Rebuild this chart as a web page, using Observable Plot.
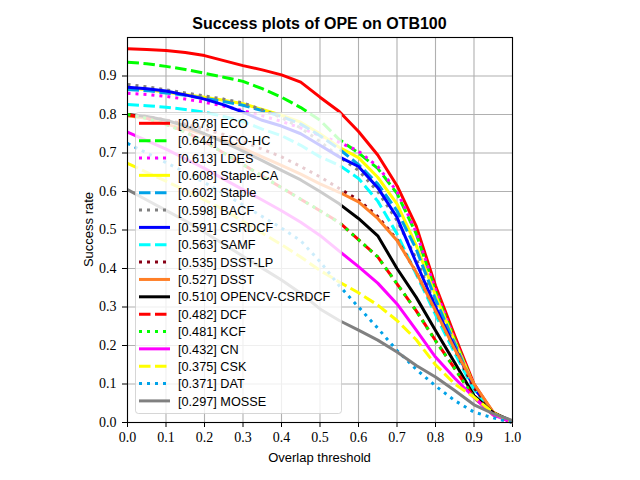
<!DOCTYPE html>
<html>
<head>
<meta charset="utf-8">
<script src="https://cdn.jsdelivr.net/npm/d3@7"></script>
<script src="https://cdn.jsdelivr.net/npm/@observablehq/plot@0.6"></script>
<style>
  html, body { margin: 0; padding: 0; background: #fff; }
  #wrap { width: 640px; height: 480px; overflow: hidden; }
</style>
</head>
<body>
<div id="wrap"></div>
<script>
// ---- data ----
const thresholds = [0, 0.05, 0.1, 0.15, 0.2, 0.25, 0.3, 0.35, 0.4, 0.45, 0.5, 0.55, 0.6, 0.65, 0.7, 0.75, 0.8, 0.85, 0.9, 0.95, 1.0];
const trackers = ["ECO", "ECO-HC", "LDES", "Staple-CA", "Staple", "BACF", "CSRDCF", "SAMF", "DSST-LP", "DSST", "OPENCV-CSRDCF", "DCF", "KCF", "CN", "CSK", "DAT", "MOSSE"];
const aucs = [0.678, 0.644, 0.613, 0.608, 0.602, 0.598, 0.591, 0.563, 0.535, 0.527, 0.510, 0.482, 0.481, 0.432, 0.375, 0.371, 0.297];

const ECO      = [0.971, 0.969, 0.966, 0.961, 0.953, 0.940, 0.927, 0.916, 0.903, 0.884, 0.845, 0.808, 0.756, 0.695, 0.615, 0.510, 0.355, 0.225, 0.100, 0.025, 0];
const ECO_HC   = [0.936, 0.932, 0.925, 0.917, 0.907, 0.897, 0.886, 0.867, 0.845, 0.818, 0.785, 0.735, 0.700, 0.660, 0.595, 0.490, 0.340, 0.215, 0.095, 0.025, 0];
const LDES     = [0.855, 0.852, 0.847, 0.840, 0.832, 0.822, 0.810, 0.797, 0.782, 0.765, 0.745, 0.728, 0.705, 0.665, 0.600, 0.495, 0.345, 0.215, 0.095, 0.025, 0];
const STAPLE_CA= [0.868, 0.865, 0.858, 0.852, 0.845, 0.837, 0.828, 0.813, 0.798, 0.780, 0.750, 0.715, 0.688, 0.637, 0.568, 0.460, 0.330, 0.210, 0.095, 0.025, 0];
const STAPLE   = [0.865, 0.862, 0.856, 0.850, 0.842, 0.834, 0.824, 0.810, 0.795, 0.775, 0.745, 0.710, 0.670, 0.620, 0.550, 0.450, 0.320, 0.205, 0.090, 0.025, 0];
const BACF     = [0.878, 0.872, 0.864, 0.856, 0.848, 0.840, 0.830, 0.812, 0.792, 0.765, 0.730, 0.690, 0.655, 0.600, 0.525, 0.425, 0.305, 0.200, 0.090, 0.025, 0];
const CSRDCF   = [0.871, 0.867, 0.861, 0.851, 0.840, 0.825, 0.806, 0.785, 0.770, 0.750, 0.720, 0.690, 0.665, 0.610, 0.533, 0.415, 0.300, 0.195, 0.090, 0.025, 0];
const SAMF     = [0.826, 0.823, 0.819, 0.813, 0.806, 0.795, 0.782, 0.762, 0.745, 0.720, 0.690, 0.668, 0.634, 0.575, 0.490, 0.385, 0.280, 0.180, 0.085, 0.022, 0];
const DSST_LP  = [0.800, 0.795, 0.786, 0.775, 0.762, 0.748, 0.730, 0.710, 0.690, 0.665, 0.638, 0.608, 0.578, 0.535, 0.475, 0.390, 0.290, 0.190, 0.090, 0.025, 0];
const DSST     = [0.797, 0.790, 0.775, 0.762, 0.748, 0.735, 0.712, 0.690, 0.668, 0.645, 0.620, 0.598, 0.573, 0.530, 0.473, 0.390, 0.290, 0.190, 0.100, 0.027, 0];
const OPENCV   = [0.800, 0.795, 0.785, 0.770, 0.750, 0.728, 0.705, 0.680, 0.655, 0.630, 0.600, 0.568, 0.530, 0.485, 0.400, 0.325, 0.239, 0.155, 0.070, 0.025, 0.003];
const DCF      = [0.800, 0.790, 0.775, 0.755, 0.730, 0.700, 0.670, 0.640, 0.610, 0.580, 0.550, 0.520, 0.475, 0.430, 0.360, 0.290, 0.213, 0.140, 0.065, 0.020, 0];
const KCF      = [0.800, 0.790, 0.774, 0.754, 0.729, 0.700, 0.670, 0.640, 0.610, 0.580, 0.550, 0.519, 0.475, 0.430, 0.360, 0.290, 0.212, 0.140, 0.065, 0.020, 0];
const CN       = [0.754, 0.732, 0.710, 0.685, 0.660, 0.632, 0.605, 0.578, 0.550, 0.520, 0.486, 0.445, 0.405, 0.362, 0.308, 0.240, 0.170, 0.115, 0.065, 0.020, 0];
const CSK      = [0.673, 0.650, 0.627, 0.603, 0.578, 0.553, 0.522, 0.492, 0.462, 0.430, 0.395, 0.365, 0.337, 0.305, 0.265, 0.215, 0.150, 0.100, 0.066, 0.025, 0];
const DAT      = [0.725, 0.700, 0.675, 0.650, 0.623, 0.595, 0.565, 0.535, 0.505, 0.472, 0.418, 0.355, 0.300, 0.245, 0.187, 0.138, 0.095, 0.057, 0.027, 0.012, 0];
const MOSSE    = [0.605, 0.578, 0.551, 0.524, 0.494, 0.463, 0.432, 0.401, 0.370, 0.336, 0.295, 0.265, 0.240, 0.214, 0.183, 0.148, 0.118, 0.083, 0.046, 0.023, 0.005];

const series = [ECO, ECO_HC, LDES, STAPLE_CA, STAPLE, BACF, CSRDCF, SAMF, DSST_LP, DSST, OPENCV, DCF, KCF, CN, CSK, DAT, MOSSE];

const xTicks = [0, 0.1, 0.2, 0.3, 0.4, 0.5, 0.6, 0.7, 0.8, 0.9, 1.0];
const yTicks = [0, 0.1, 0.2, 0.3, 0.4, 0.5, 0.6, 0.7, 0.8, 0.9];

// ---- styles ----
const palette = ["#ff0000", "#00ff00", "#ff00ff", "#ffff00", "#00a2e8", "#808080", "#0000ff", "#00ffff", "#880015", "#ff7f27", "#000000"];
const styleCycle = ["-", "--", ":", "-", "--", ":", "-", "--", ":", "-"];
const colorOf = i => palette[i % palette.length];
const styleOf = i => styleCycle[i % styleCycle.length];
const dashOf = s => s === "--" ? "11.5,4.5" : s === ":" ? "3,5" : null;
const LW = 3;

// ---- chart ----
const lineMarks = series.map((vals, i) => {
  const rows = thresholds.map((t, j) => ({t, v: vals[j]}));
  const opts = {x: "t", y: "v", stroke: colorOf(i), strokeWidth: LW, strokeLinecap: "butt", strokeLinejoin: "round"};
  const d = dashOf(styleOf(i));
  if (d) opts.strokeDasharray = d;
  return Plot.line(rows, opts);
});

const chart = Plot.plot({
  width: 640,
  height: 480,
  marginLeft: 127,
  marginRight: 128,
  marginTop: 37,
  marginBottom: 58,
  style: {fontFamily: "'Liberation Serif', 'DejaVu Serif', serif", fontSize: "14px", color: "black", background: "white", overflow: "visible"},
  x: {domain: [0, 1], ticks: xTicks, tickFormat: d3.format(".1f"), tickSize: 5, tickPadding: 5, label: null},
  y: {domain: [0, 1], ticks: yTicks, tickFormat: d3.format(".1f"), tickSize: 5, tickPadding: 6, label: null},
  marks: [
    Plot.ruleX(xTicks, {stroke: "#b0b0b0", strokeWidth: 1.1}),
    Plot.ruleY(yTicks, {stroke: "#b0b0b0", strokeWidth: 1.1}),
    ...lineMarks,
    Plot.frame({stroke: "black", strokeWidth: 1.1})
  ]
});

document.getElementById("wrap").appendChild(chart);
const svg = d3.select(chart);
const sans = "'Liberation Sans', Arial, sans-serif";

// title and axis labels
svg.append("text").attr("x", 319.5).attr("y", 29).attr("text-anchor", "middle")
  .attr("font-family", sans).attr("font-weight", "bold").attr("font-size", 16)
  .text("Success plots of OPE on OTB100");
svg.append("text").attr("x", 319.5).attr("y", 462).attr("text-anchor", "middle")
  .attr("font-family", sans).attr("font-size", 13).text("Overlap threshold");
svg.append("text").attr("transform", "translate(93,229.5) rotate(-90)").attr("text-anchor", "middle")
  .attr("font-family", sans).attr("font-size", 13).text("Success rate");

// legend (lower left)
const lg = svg.append("g").attr("text-anchor", "start");
lg.append("rect").attr("x", 135.5).attr("y", 112.5).attr("width", 206).attr("height", 301).attr("rx", 3)
  .attr("fill", "white").attr("fill-opacity", 0.8).attr("stroke", "#cccccc").attr("stroke-opacity", 0.8).attr("stroke-width", 1);
trackers.forEach((name, i) => {
  const cy = 123.3 + i * 17.35;
  const ln = lg.append("line").attr("x1", 139).attr("x2", 170).attr("y1", cy).attr("y2", cy)
    .attr("stroke", colorOf(i)).attr("stroke-width", LW).attr("stroke-linecap", "butt");
  const d = dashOf(styleOf(i));
  if (d) ln.attr("stroke-dasharray", d);
  lg.append("text").attr("x", 178).attr("y", cy).attr("dy", "0.37em").attr("text-anchor", "start")
    .attr("font-family", sans).attr("font-size", 12.7).attr("fill", "black")
    .text(`[${aucs[i].toFixed(3)}] ${name}`);
});
</script>
</body>
</html>
